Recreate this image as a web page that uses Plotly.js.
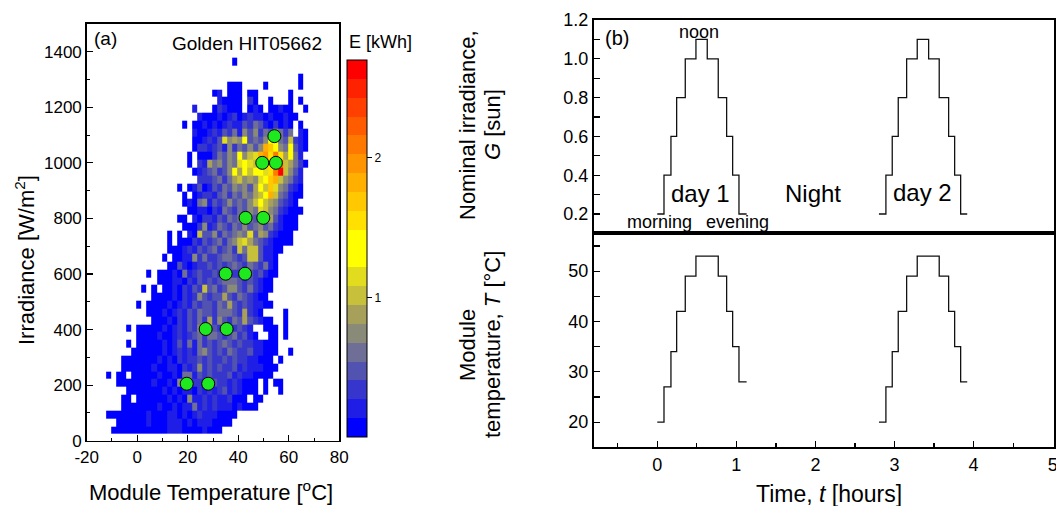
<!DOCTYPE html>
<html>
<head>
<meta charset="utf-8">
<script src="https://cdn.plot.ly/plotly-3.0.1.min.js"></script>
<style>html,body{margin:0;padding:0;background:#fff;}#chart{width:1056px;height:506px;}</style>
</head>
<body>
<div id="chart"></div>
<script>
// ---------------- DATA ----------------
// Panel (a): 2D histogram bins (cell centres)
const tempBins = [-11.3,-9.3,-7.3,-5.3,-3.3,-1.3,0.7,2.7,4.7,6.7,8.7,10.7,12.7,14.7,16.7,18.7,20.7,22.7,24.7,26.7,
                  28.7,30.7,32.7,34.7,36.7,38.7,40.7,42.7,44.7,46.7,48.7,50.7,52.7,54.7,56.7,58.7,60.7,62.7,64.7,66.7];
const irrBins = [38,66,94,123,151,179,207,236,264,292,320,348,377,405,433,461,489,518,546,574,602,630,659,687,
                 715,743,771,800,828,856,884,912,941,969,997,1025,1053,1082,1110,1138,1166,1194,1223,1251,1279,1307,1335,1364];
// Energy level per cell, rows from top (highest irradiance) to bottom.
// "start|cells": start = first column index; '.' = empty, '0'..'9','a'..'j' = colour level 0..19
const heatRows = [
  "25|0",
  "0|",
  "38|0",
  "24|000....0......0",
  "21|01.000.00......0",
  "22|10000.20..0...0.0",
  "17|1...021000.010.00100..0",
  "18|10001012012110100100",
  "15|0.00101012113243102010.0",
  "17|10012132415352435424.10",
  "17|00121385659343599437210",
  "17|02212315243535dc9549310",
  "16|0.000243549578debfb6941",
  "16|0.216453548987ccbef76420",
  "17|0123423596979a8bfj7531",
  "18|22234246756589cd75421",
  "14|0.0130132435453697c854210",
  "15|0.012213424354679d743100",
  "15|01045132353435797653210",
  "16|00110214324354875421000",
  "14|00.102213243454354631000",
  "15|00025124324353453421000",
  "12|0.0.107335243454836521000",
  "12|0.00021323424578643210000",
  "12|00012132342342747731100",
  "11|0.001152422344323773110",
  "12|0031012232323432432410",
  "8|0.000104123223233224323100",
  "10|00011021323234443232100",
  "7|0.0.0010213273423553242100",
  "9|00001021253233632432100",
  "6|0.0000101213233243632321100",
  "8|00010121324332444326210....0",
  "9|000102132426253243632100..0",
  "4|0.00000101213253432432321..000.0",
  "6|000010012123424432342310..00.0",
  "4|0.0000010131414232343232211000",
  "5|00000010121214532324322311000..0",
  "3|000000010102122323223232211000.0",
  "3|0000001001102125232322312111000",
  "0|0.00.0000010010441323222312110000",
  "2|0000000100105112212322121000.0.00",
  "4|00000001010110212123121000.0..0",
  "3|00.0000001010511212112000.00",
  "3|000000010010114121211101000",
  "0|00000000100011010121110000",
  "2|00000010001110101110000",
  "1|0000000000011100001000"
];
const levelStep = 0.135;     // kWh per colour level
const energyMax = 2.7;       // top of colour bar
const levelColors = ['#0000ff','#1e1ee6','#3636cc','#5252b0','#6e6e96','#8a8a78','#a6a05a','#c6c03a','#e2dc1e','#ffff00',
                     '#ffff00','#ffe000','#ffc800','#ffaf00','#ff9400','#ff7800','#ff5c00','#ff4000','#ff2200','#ff0000'];
const tempTicks = [-20, 0, 20, 40, 60, 80];
const tempTickText = ['-20', '0', '20', '40', '60', '80'];
// Green operating points (module temperature, irradiance)
const dotT = [19.6, 28.1, 27.1, 35.4, 35.0, 42.7, 42.9, 49.9, 49.5, 54.9, 54.3];
const dotG = [205, 205, 402, 402, 601, 601, 802, 802, 1000, 1000, 1096];

// Panel (b): step profiles (step start times + end), values per step
const day1Time = [0.00, 0.085, 0.173, 0.245, 0.354, 0.489, 0.632, 0.771, 0.877, 0.953, 1.033, 1.130];
const day2Time = [2.803, 2.891, 2.971, 3.047, 3.153, 3.287, 3.431, 3.565, 3.684, 3.760, 3.836, 3.919];
const stepG = [0.2, 0.4, 0.6, 0.8, 1.0, 1.1, 1.0, 0.8, 0.6, 0.4, 0.2];
const stepT = [20, 27, 34, 42, 49, 53, 53, 49, 42, 35, 28];

// ---------------- BUILD ----------------
const W = 1056, H = 506;
const fx = p => p / W, fy = p => 1 - p / H;
const LV = '0123456789abcdefghij';

const z = heatRows.slice().reverse().map(s => {
  const parts = s.split('|');
  const start = parseInt(parts[0], 10), body = parts[1];
  const row = new Array(tempBins.length).fill(null);
  for (let i = 0; i < body.length; i++) {
    const ch = body[i], c = start + i;
    if (ch !== '.' && c < tempBins.length) row[c] = (LV.indexOf(ch) + 0.5) * levelStep;
  }
  return row;
});

const colorscale = [];
levelColors.forEach((c, i) => {
  colorscale.push([i / levelColors.length, c]);
  colorscale.push([(i + 1) / levelColors.length, c]);
});

const stepY = arr => arr.concat([arr[arr.length - 1]]);
const lineStyle = {color: '#111', width: 1.3, shape: 'hv'};

const traces = [
  {type: 'heatmap', x: tempBins, y: irrBins, z: z, zmin: 0, zmax: energyMax, zsmooth: false,
   colorscale: colorscale, hoverinfo: 'skip', xaxis: 'x', yaxis: 'y',
   colorbar: {x: fx(346.7), xanchor: 'left', y: fy(60), yanchor: 'top', yref: 'paper', xref: 'paper',
              len: 377, lenmode: 'pixels', thickness: 20, thicknessmode: 'pixels', xpad: 0, ypad: 0,
              outlinewidth: 1, outlinecolor: '#000', tickvals: [1, 2], ticktext: ['1', '2'],
              ticks: 'outside', ticklen: 5, tickwidth: 1, tickcolor: '#000',
              tickfont: {size: 12, color: '#000'}}},
  {type: 'scatter', mode: 'markers', x: dotT, y: dotG, xaxis: 'x', yaxis: 'y', hoverinfo: 'skip',
   marker: {size: 13, color: '#1ee81e', line: {color: '#000', width: 1}}},
  {type: 'scatter', mode: 'lines', x: day1Time, y: stepY(stepG), xaxis: 'x2', yaxis: 'y2', line: lineStyle, hoverinfo: 'skip'},
  {type: 'scatter', mode: 'lines', x: day2Time, y: stepY(stepG), xaxis: 'x2', yaxis: 'y2', line: lineStyle, hoverinfo: 'skip'},
  {type: 'scatter', mode: 'lines', x: day1Time, y: stepY(stepT), xaxis: 'x3', yaxis: 'y3', line: lineStyle, hoverinfo: 'skip'},
  {type: 'scatter', mode: 'lines', x: day2Time, y: stepY(stepT), xaxis: 'x3', yaxis: 'y3', line: lineStyle, hoverinfo: 'skip'}
];

const axBase = {showgrid: false, zeroline: false, showline: true, linecolor: '#000', mirror: true,
                ticks: 'inside', tickcolor: '#000', tickwidth: 1.2, ticklen: 6,
                tickfont: {size: 17, color: '#000'}};

const layout = {
  width: W, height: H, margin: {l: 0, r: 0, t: 0, b: 0},
  paper_bgcolor: '#fff', plot_bgcolor: '#fff', showlegend: false,
  font: {family: 'Liberation Sans, Arial, sans-serif', size: 17, color: '#000'},
  xaxis: Object.assign({}, axBase, {domain: [fx(86.7), fx(339.3)], range: [-20, 80],
          tickmode: 'array', tickvals: tempTicks, ticktext: tempTickText,
          linewidth: 1.5, anchor: 'y', minor: {ticks: 'inside', ticklen: 3, dtick: 10, tick0: 0, tickcolor: '#000', tickwidth: 1}}),
  yaxis: Object.assign({}, axBase, {domain: [fy(440.7), fy(23.9)], range: [0, 1500], tick0: 0, dtick: 200,
          linewidth: 1.5, anchor: 'x', minor: {ticks: 'inside', ticklen: 3, dtick: 100, tickcolor: '#000', tickwidth: 1}}),
  xaxis2: Object.assign({}, axBase, {domain: [fx(594), fx(1053.5)], range: [-0.8, 5.01], anchor: 'y2',
          showticklabels: false, ticks: '', linewidth: 2, matches: 'x3'}),
  yaxis2: Object.assign({}, axBase, {domain: [fy(233.4), fy(20)], range: [0.1, 1.2], tick0: 0, dtick: 0.2,
          tickformat: '.1f', linewidth: 2, anchor: 'x2', tickfont: {size: 18, color: '#000'},
          minor: {ticks: 'inside', ticklen: 6, dtick: 0.1, tick0: 0, tickcolor: '#000', tickwidth: 1.2}}),
  xaxis3: Object.assign({}, axBase, {domain: [fx(594), fx(1053.5)], range: [-0.8, 5.01], tick0: 0, dtick: 1,
          linewidth: 2, anchor: 'y3', tickfont: {size: 18, color: '#000'}, ticklabeloverflow: 'allow',
          minor: {ticks: 'inside', ticklen: 4, dtick: 0.5, tick0: 0, tickcolor: '#000', tickwidth: 1.2}}),
  yaxis3: Object.assign({}, axBase, {domain: [fy(447.3), fy(233.4)], range: [15, 57.5], tick0: 0, dtick: 10,
          linewidth: 2, anchor: 'x3', tickfont: {size: 18, color: '#000'},
          minor: {ticks: 'inside', ticklen: 6, dtick: 5, tick0: 0, tickcolor: '#000', tickwidth: 1.2}}),
  annotations: []
};

const ann = (text, x, y, size, extra) => Object.assign({
  text: text, x: fx(x), y: fy(y), xref: 'paper', yref: 'paper', showarrow: false,
  xanchor: 'center', yanchor: 'middle', font: {size: size, color: '#000'}}, extra || {});

layout.annotations = [
  ann('(a)', 105, 38, 19),
  ann('Golden HIT05662', 247, 44, 19),
  ann('E [kWh]', 380, 42, 18),
  ann('Irradiance [W/m<sup>2</sup>]', 25, 260, 22, {textangle: -90}),
  ann('Module Temperature [<sup>o</sup>C]', 211, 491, 22),
  ann('(b)', 617, 38, 20),
  ann('noon', 699, 32, 18),
  ann('day 1', 700, 193, 24),
  ann('Night', 813, 193, 24),
  ann('day 2', 922, 192, 24),
  ann('morning', 659, 222, 18),
  ann('evening', 737, 222, 18),
  ann('Nominal irradiance,', 467, 125, 22, {textangle: -90}),
  ann('<i>G</i> [sun]', 492, 125, 22, {textangle: -90}),
  ann('Module', 467, 345, 22, {textangle: -90}),
  ann('temperature, <i>T</i> [°C]', 492, 345, 22, {textangle: -90}),
  ann('Time, <i>t</i> [hours]', 829, 494, 23)
];

Plotly.newPlot('chart', traces, layout, {staticPlot: true, displayModeBar: false});
</script>
</body>
</html>
